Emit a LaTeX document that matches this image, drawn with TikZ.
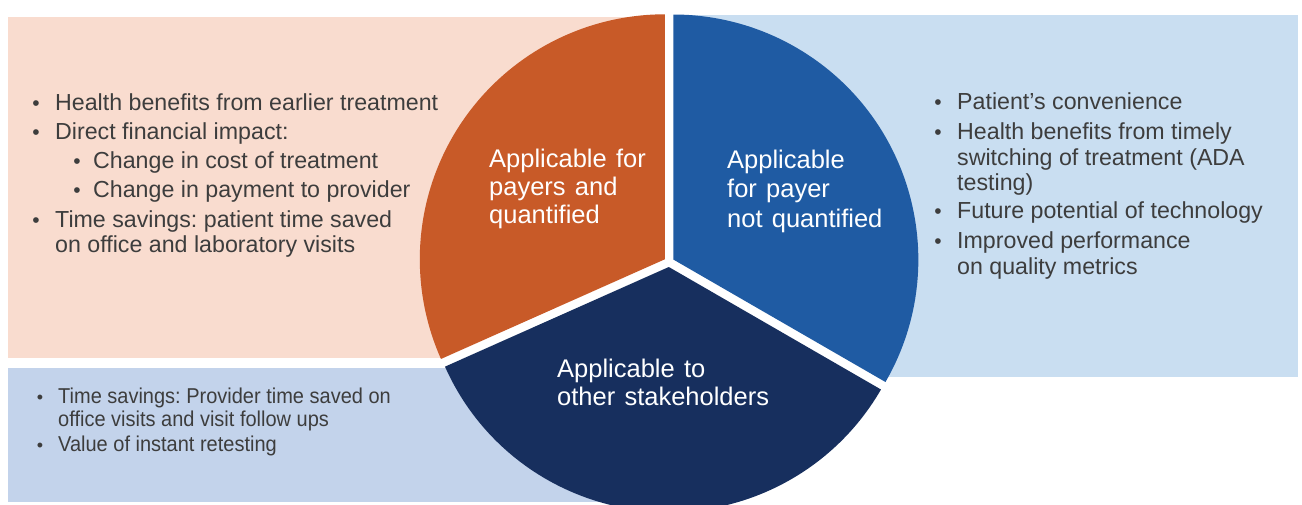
\documentclass[tikz,border=0pt]{standalone}
\usepackage{fontspec}
\setmainfont{Liberation Sans}
\newfontfamily\labelfont[WordSpace=1.3]{Liberation Sans}
\newfontfamily\narrowfont[FakeStretch=0.93]{Liberation Sans}
\frenchspacing
\definecolor{peach}{HTML}{F9DCCF}
\definecolor{skyback}{HTML}{C9DEF1}
\definecolor{lavender}{HTML}{C3D3EB}
\definecolor{sliceorange}{HTML}{C85A28}
\definecolor{sliceblue}{HTML}{1F5BA3}
\definecolor{slicenavy}{HTML}{172F5E}
\definecolor{textgray}{HTML}{3D3D3D}
\tikzset{
  txt/.style={anchor=base west, inner sep=0pt, text=textgray, font=\fontsize{23.2}{28}\selectfont},
  bul/.style={anchor=base, inner sep=0pt, text=textgray, font=\fontsize{21}{28}\selectfont},
  smalltxt/.style={txt, font=\narrowfont\fontsize{21.5}{24}\selectfont},
  smallbul/.style={bul, font=\fontsize{18}{24}\selectfont},
  lbl/.style={anchor=base west, inner sep=0pt, text=white, font=\labelfont\fontsize{25.5}{30}\selectfont},
}
\begin{document}
\begin{tikzpicture}[x=1pt,y=1pt]
  \useasboundingbox (0,0) rectangle (1302,-504);
  \clip (0,0) rectangle (1302,-504);

  % background panels
  \fill[peach]    (8,-17)   rectangle (669,-358);
  \fill[skyback]  (669,-15) rectangle (1298,-377);
  \fill[lavender] (8,-368)  rectangle (669,-502);

  % exploded pie
  \coordinate (pc) at (669,-262);
  \fill[white] (pc) circle[radius=247];
  \coordinate (oc) at (664.8,-259.3);
  \coordinate (bc) at (673.3,-259.5);
  \coordinate (nc) at (668.8,-267);
  \fill[sliceorange] (oc) -- ++(90:245) arc[start angle=90, end angle=204, radius=245] -- cycle;
  \fill[sliceblue]   (bc) -- ++(-30:245) arc[start angle=-30, end angle=90, radius=245] -- cycle;
  \fill[slicenavy]   (nc) -- ++(204:245) arc[start angle=204, end angle=330, radius=245] -- cycle;

  % slice labels
  \node[lbl] (o1) at (489,-167) {Applicable for};
  \node[lbl] (o2) at (489,-195) {payers and};
  \node[lbl] (o3) at (489,-223) {quantified};
  \node[lbl] (b1) at (727,-168) {Applicable};
  \node[lbl] (b2) at (727,-197) {for payer};
  \node[lbl] (b3) at (727,-227) {not quantified};
  \node[lbl] (n1) at (557,-377) {Applicable to};
  \node[lbl] (n2) at (557,-405) {other stakeholders};

  % left list
  \node[bul] (lb1) at (36,-110) {•};
  \node[txt] (l1)  at (55,-110) {Health benefits from earlier treatment};
  \node[bul] (lb2) at (36,-139) {•};
  \node[txt] (l2)  at (55,-139) {Direct financial impact:};
  \node[bul] (lb3) at (77,-168) {•};
  \node[txt] (l3)  at (93,-168) {Change in cost of treatment};
  \node[bul] (lb4) at (77,-197) {•};
  \node[txt] (l4)  at (93,-197) {Change in payment to provider};
  \node[bul] (lb5) at (36,-227) {•};
  \node[txt] (l5)  at (55,-227) {Time savings: patient time saved};
  \node[txt] (l6)  at (55,-252) {on office and laboratory visits};

  % right list
  \node[bul] (rb1) at (938,-109) {•};
  \node[txt] (r1)  at (957,-109) {Patient's convenience};
  \node[bul] (rb2) at (938,-139) {•};
  \node[txt] (r2)  at (957,-139) {Health benefits from timely};
  \node[txt] (r3)  at (957,-165) {switching of treatment (ADA};
  \node[txt] (r4)  at (957,-190) {testing)};
  \node[bul] (rb3) at (938,-218) {•};
  \node[txt] (r5)  at (957,-218) {Future potential of technology};
  \node[bul] (rb4) at (938,-248) {•};
  \node[txt] (r6)  at (957,-248) {Improved performance};
  \node[txt] (r7)  at (957,-274) {on quality metrics};

  % lower list
  \node[smallbul] (sb1) at (40,-403) {•};
  \node[smalltxt] (s1)  at (58,-403) {Time savings: Provider time saved on};
  \node[smalltxt] (s2)  at (58,-426) {office visits and visit follow ups};
  \node[smallbul] (sb2) at (40,-451) {•};
  \node[smalltxt] (s3)  at (58,-451) {Value of instant retesting};
\end{tikzpicture}
\end{document}
